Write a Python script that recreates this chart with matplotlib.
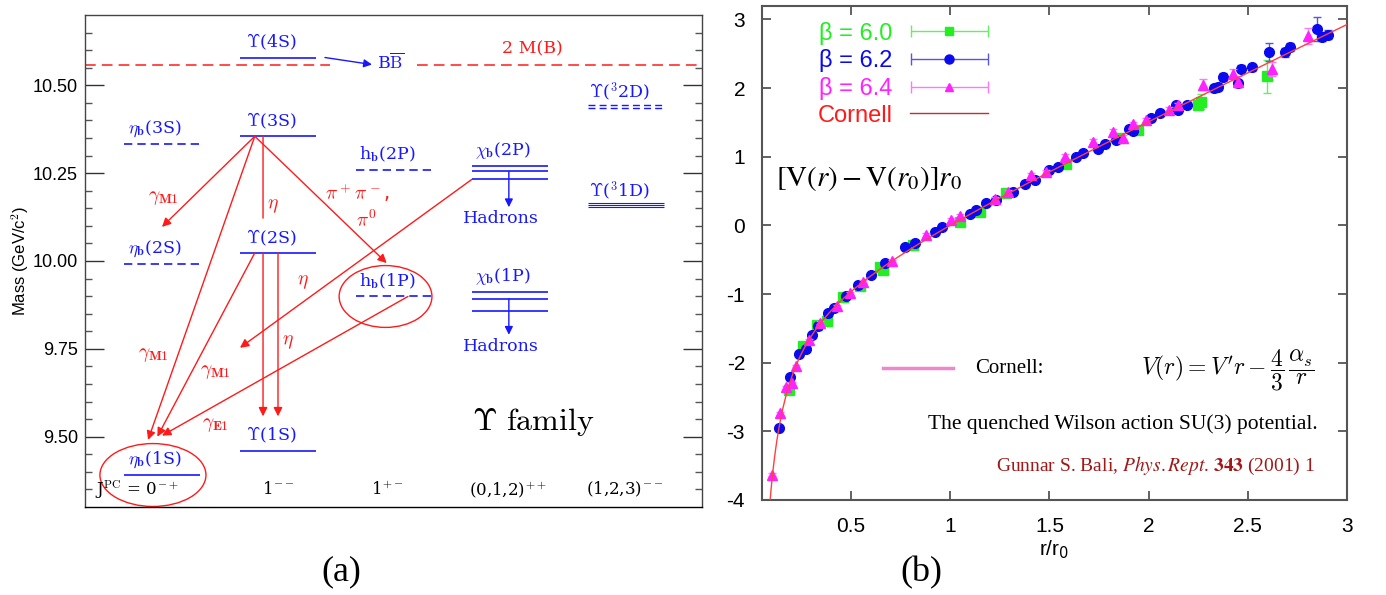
import matplotlib
matplotlib.use('Agg')
import matplotlib.pyplot as plt
import numpy as np
from matplotlib.patches import Ellipse
from matplotlib.lines import Line2D
from matplotlib.legend_handler import HandlerErrorbar
from matplotlib.container import ErrorbarContainer

plt.rcParams['mathtext.fontset'] = 'cm'
plt.rcParams['axes.unicode_minus'] = False

# ---------------- (a) bottomonium spectrum, masses in GeV/c^2 ----------------
jpc_labels = [r'J$^{\rm PC}$ = 0$^{-+}$', r'1$^{--}$', r'1$^{+-}$',
              r'(0,1,2)$^{++}$', r'(1,2,3)$^{--}$']
eta_b_names = ['1S', '2S', '3S']
eta_b_mass = [9.391, 9.991, 10.332]
ups_names = ['1S', '2S', '3S', '4S']
ups_mass = [9.460, 10.023, 10.355, 10.579]
h_b_names = ['1P', '2P']
h_b_mass = [9.899, 10.259]
chi_b1p_mass = [9.859, 9.893, 9.912]
chi_b2p_mass = [10.232, 10.255, 10.269]
ups_1d_mass = [10.153, 10.160, 10.166]
ups_2d_mass = [10.435, 10.444]
two_mB = 10.558

# red transitions: (x0, m0, x1, m1, arrowhead)
transitions = [
    (0.80, ups_mass[2], 0.00, 10.097, True),
    (0.80, ups_mass[2], -0.12, 9.491, True),
    (0.80, ups_mass[1], -0.04, 9.500, True),
    (2.12, h_b_mass[0], 0.00, 9.503, True),
    (0.80, ups_mass[2], 1.937, 9.994, True),
    (2.67, chi_b2p_mass[0], 0.672, 9.753, True),
    (0.871, ups_mass[2], 0.871, 10.122, False),
    (0.871, ups_mass[1], 0.871, 9.558, True),
    (1.00, ups_mass[1], 1.00, 9.558, True),
]
transition_labels = [
    (r'$\gamma_{\mathbf{M1}}$', 0.01, 10.182),
    (r'$\gamma_{\mathbf{M1}}$', -0.075, 9.733),
    (r'$\gamma_{\mathbf{M1}}$', 0.457, 9.685),
    (r'$\gamma_{\mathbf{E1}}$', 0.457, 9.534),
    (r'$\eta$', 0.96, 10.159),
    (r'$\eta$', 1.218, 9.941),
    (r'$\eta$', 1.089, 9.771),
    (r'$\pi^+\pi^-$,', 1.68, 10.193),
    (r'$\pi^0$', 1.765, 10.116),
]

# ---------------- (b) static potential, lattice data ----------------
r_60 = [0.189, 0.259, 0.327, 0.377, 0.461, 0.545, 0.645, 0.662, 0.813, 1.048,
        1.149, 1.283, 1.585, 1.853, 1.945, 2.247, 2.264, 2.595]
v_60 = [-2.40, -1.76, -1.45, -1.40, -1.04, -0.89, -0.60, -0.65, -0.28, 0.05,
        0.20, 0.47, 0.90, 1.28, 1.39, 1.75, 1.80, 2.17]
e_60 = [0.03, 0.02, 0.02, 0.02, 0.02, 0.02, 0.02, 0.02, 0.02, 0.02,
        0.02, 0.03, 0.03, 0.04, 0.04, 0.06, 0.11, 0.24]

r_62 = [0.139, 0.192, 0.236, 0.273, 0.302, 0.335, 0.385, 0.414, 0.474, 0.536,
        0.603, 0.670, 0.771, 0.822, 0.922, 0.956, 1.098, 1.132, 1.182, 1.232,
        1.316, 1.375, 1.425, 1.500, 1.543, 1.635, 1.668, 1.744, 1.778, 1.837,
        1.903, 1.920, 2.013, 2.055, 2.139, 2.147, 2.192, 2.331, 2.348, 2.373,
        2.449, 2.466, 2.521, 2.609, 2.689, 2.714, 2.848, 2.876, 2.905]
v_62 = [-2.95, -2.21, -1.88, -1.80, -1.60, -1.47, -1.28, -1.21, -1.03, -0.87,
        -0.72, -0.55, -0.31, -0.26, -0.09, -0.03, 0.17, 0.22, 0.32, 0.37,
        0.49, 0.61, 0.66, 0.81, 0.85, 1.00, 1.05, 1.12, 1.19, 1.24,
        1.41, 1.37, 1.56, 1.63, 1.75, 1.68, 1.75, 2.00, 2.02, 2.16,
        2.07, 2.28, 2.30, 2.53, 2.52, 2.60, 2.86, 2.75, 2.78]
e_62 = [0.03, 0.02, 0.02, 0.02, 0.02, 0.02, 0.02, 0.02, 0.02, 0.02,
        0.02, 0.02, 0.02, 0.02, 0.02, 0.02, 0.02, 0.02, 0.02, 0.02,
        0.02, 0.03, 0.03, 0.03, 0.03, 0.03, 0.03, 0.03, 0.03, 0.03,
        0.04, 0.04, 0.04, 0.04, 0.04, 0.04, 0.04, 0.05, 0.05, 0.06,
        0.05, 0.05, 0.05, 0.13, 0.06, 0.06, 0.18, 0.07, 0.07]

r_64 = [0.103, 0.142, 0.172, 0.200, 0.223, 0.290, 0.343, 0.427, 0.494, 0.561,
        0.704, 0.880, 1.006, 1.048, 1.224, 1.291, 1.409, 1.484, 1.576, 1.718,
        1.820, 1.870, 1.920, 1.988, 2.105, 2.147, 2.272, 2.423, 2.449, 2.622,
        2.801]
v_64 = [-3.63, -2.74, -2.36, -2.30, -2.05, -1.67, -1.42, -1.18, -0.99, -0.82,
        -0.52, -0.14, 0.08, 0.13, 0.39, 0.49, 0.73, 0.78, 1.00, 1.22,
        1.36, 1.28, 1.47, 1.53, 1.68, 1.75, 2.05, 2.21, 2.09, 2.28,
        2.76]
e_64 = [0.02, 0.02, 0.02, 0.02, 0.02, 0.02, 0.02, 0.02, 0.02, 0.02,
        0.02, 0.03, 0.03, 0.03, 0.03, 0.03, 0.04, 0.03, 0.04, 0.04,
        0.05, 0.04, 0.04, 0.04, 0.04, 0.04, 0.08, 0.07, 0.08, 0.10,
        0.12]

# Cornell fit in units of r0:  V r0 = sigma r0^2 (r/r0 - 1) - e (r0/r - 1)
sigma_r0sq = 1.37
e_coul = 0.28
r_fit = np.linspace(0.092, 3.0, 400)

BLUE = '#1818ff'
RED = '#ff1a1a'
LVL_FONT = 'DejaVu Serif'

fig = plt.figure(figsize=(13.86, 5.95), dpi=100)

# ================= panel (a) =================
ax = fig.add_axes([0.0613, 0.1479, 0.4452, 0.8269])
ax.set_xlim(-0.664, 4.655)
ax.set_ylim(9.30, 10.70)
hw = 0.33

def level(col, masses, ls='-', lw=1.2):
    for m in masses:
        ax.plot([col - hw, col + hw], [m, m], color=BLUE, lw=lw, ls=ls,
                dashes=(5, 3) if ls == '--' else (None, None), solid_capstyle='butt')

def name(col, mass, txt):
    ax.text(col - 0.06, mass + 0.044, txt, color=BLUE, ha='center', va='center',
            fontsize=12.5, family=LVL_FONT)

for i, m in enumerate(eta_b_mass):
    level(0, [m], '-' if i == 0 else '--')
    name(0, m, r'$\eta_{\mathbf{b}}$(' + eta_b_names[i] + ')')
for i, m in enumerate(ups_mass):
    level(1, [m])
    name(1, m, r'$\Upsilon$(' + ups_names[i] + ')')
for i, m in enumerate(h_b_mass):
    level(2, [m], '--')
    name(2, m, r'h$_{\mathbf{b}}$(' + h_b_names[i] + ')')
level(3, chi_b1p_mass)
name(3, max(chi_b1p_mass), r'$\chi_{\mathbf{b}}$(1P)')
level(3, chi_b2p_mass)
name(3, max(chi_b2p_mass), r'$\chi_{\mathbf{b}}$(2P)')
level(4, ups_1d_mass, lw=0.8)
name(4, max(ups_1d_mass) - 0.01, r'$\Upsilon$($^3$1D)')
level(4, ups_2d_mass, '--', lw=1.0)
name(4, max(ups_2d_mass) - 0.005, r'$\Upsilon$($^3$2D)')

# open-bottom threshold
ax.plot([-0.664, 1.448], [two_mB, two_mB], color=RED, lw=1.1, dashes=(7, 4))
ax.plot([2.198, 4.655], [two_mB, two_mB], color=RED, lw=1.1, dashes=(7, 4))
ax.text(3.19, 10.605, '2 M(B)', color=RED, ha='center', va='center',
        fontsize=12.5, family=LVL_FONT)
ax.annotate('', xy=(1.81, two_mB + 0.001), xytext=(1.405, ups_mass[3]),
            arrowprops=dict(arrowstyle='-|>', color=BLUE, lw=1.0, mutation_scale=12,
                            shrinkA=0, shrinkB=0))
ax.text(1.974, 10.565, r'B$\overline{\rm B}$', color=BLUE, ha='center', va='center',
        fontsize=12.5, family=LVL_FONT)

# hadronic decays of the chi_b states
for chi, tip, lab in [(chi_b2p_mass, 10.153, 10.122), (chi_b1p_mass, 9.79, 9.756)]:
    ax.annotate('', xy=(2.99, tip), xytext=(2.99, chi[1]),
                arrowprops=dict(arrowstyle='-|>', color=BLUE, lw=1.0, mutation_scale=12,
                                shrinkA=0, shrinkB=0))
    ax.text(2.92, lab, 'Hadrons', color=BLUE, ha='center', va='center',
            fontsize=12.5, family=LVL_FONT)

for x0, m0, x1, m1, head in transitions:
    ax.annotate('', xy=(x1, m1), xytext=(x0, m0),
                arrowprops=dict(arrowstyle='-|>' if head else '-', color=RED, lw=1.0,
                                mutation_scale=13, shrinkA=0, shrinkB=0))
for txt, x, m in transition_labels:
    ax.text(x, m, txt, color=RED, ha='center', va='center', fontsize=14)

ax.add_patch(Ellipse((1.927, h_b_mass[0]), 0.80, 0.176, fill=False, ec=RED, lw=1.0))
ax.add_patch(Ellipse((-0.078, eta_b_mass[0]), 0.914, 0.179, fill=False, ec=RED, lw=1.0,
                     clip_on=False))

for col, lab in zip([-0.22, 1.0, 1.94, 2.98, 3.99], jpc_labels):
    ax.text(col, 9.349, lab, ha='center', va='center', fontsize=12, family=LVL_FONT)

ax.text(3.198, 9.543, r'$\Upsilon\ \mathrm{family}$', ha='center', va='center', fontsize=23)

ax.set_xticks([])
ax.set_yticks([9.50, 9.75, 10.00, 10.25, 10.50])
ax.set_yticks(np.arange(9.35, 10.70, 0.05), minor=True)
ax.set_yticklabels(['9.50', '9.75', '10.00', '10.25', '10.50'], family='Liberation Sans',
                   fontsize=13)
ax.tick_params(axis='y', which='major', direction='in', length=13.5, width=1.0,
               right=True, pad=5, color='#333333')
ax.tick_params(axis='y', which='minor', direction='in', length=5, width=1.0,
               right=True, color='#555555')
for s in ax.spines.values():
    s.set_color('#444444')
    s.set_linewidth(1.0)
ax.spines['bottom'].set_color('black')
ax.set_ylabel(r'Mass (GeV/c$^2$)', family='Liberation Sans', fontsize=12)
ax.yaxis.set_label_coords(-0.088, 0.5)

fig.text(341 / 1386, 1 - 572 / 595, '(a)', ha='center', va='center', fontsize=26,
         family='Liberation Serif')

# ================= panel (b) =================
bx = fig.add_axes([0.5496, 0.1597, 0.4223, 0.8307])
bx.set_xlim(0.05, 3.0)
bx.set_ylim(-4, 3.2)

GREEN = '#22ee22'
MAG = '#ff22ff'
DBLUE = '#0a0aee'

bx.errorbar(r_60, v_60, yerr=e_60, fmt='s', color=GREEN, ms=6.5, ecolor='#66ee66',
            elinewidth=1.0, capsize=3, zorder=2)
bx.errorbar(r_62, v_62, yerr=e_62, fmt='o', color=DBLUE, ms=7, ecolor='#5555ee',
            elinewidth=1.0, capsize=3, zorder=3)
bx.errorbar(r_64, v_64, yerr=e_64, fmt='^', color=MAG, ms=6.5, ecolor='#ff77ff',
            elinewidth=1.0, capsize=3, zorder=4)
v_fit = sigma_r0sq * (r_fit - 1) - e_coul * (1 / r_fit - 1)
bx.plot(r_fit, v_fit, color='#ff4040', lw=1.0, zorder=5)

# legend proxies with horizontal bars
proxies = []
for fmt, col, ecol, ms in [('s', GREEN, '#66ee66', 6), ('o', DBLUE, '#5555ee', 6.5),
                           ('^', MAG, '#ff77ff', 5.5)]:
    proxies.append(bx.errorbar([np.nan], [np.nan], xerr=[1.0], fmt=fmt, color=col,
                               ecolor=ecol, ms=ms, elinewidth=1.0, capsize=4))
proxies.append(Line2D([], [], color='#c03030', lw=1.0))
leg = bx.legend(proxies, ['β = 6.0', 'β = 6.2', 'β = 6.4', 'Cornell'], loc='upper right',
                bbox_to_anchor=(0.387, 0.968), markerfirst=False, frameon=False,
                numpoints=1, handlelength=3.3, handletextpad=0.75, labelspacing=0.2,
                borderpad=0, borderaxespad=0,
                labelcolor=[GREEN, DBLUE, MAG, RED],
                prop={'family': 'Liberation Sans', 'size': 17},
                handler_map={ErrorbarContainer: HandlerErrorbar(xerr_size=1.62)})

bx.text(0.0243, 0.651, r'$[\mathrm{V}(r) - \mathrm{V}(r_0)]r_0$', transform=bx.transAxes,
        fontsize=21, ha='left', va='center', math_fontfamily='stix')

bx.plot([0.207, 0.327], [0.267, 0.267], transform=bx.transAxes, color='#ee88cc', lw=2.5)
bx.text(0.364, 0.267, 'Cornell:', transform=bx.transAxes, fontsize=15,
        family='Liberation Serif', ha='left', va='center')
bx.text(0.945, 0.262, r"$V(r) = V'r - \dfrac{4}{3}\,\dfrac{\alpha_s}{r}$",
        transform=bx.transAxes, fontsize=17, ha='right', va='center', math_fontfamily='cm')
bx.text(0.949, 0.154, 'The quenched Wilson action SU(3) potential.', transform=bx.transAxes,
        fontsize=15.5, family='Liberation Serif', ha='right', va='center')
bx.text(0.945, 0.069, r'Gunnar S. Bali, $\mathit{Phys.Rept}$. $\mathbf{343}$ (2001) 1',
        transform=bx.transAxes, fontsize=14, family='Liberation Serif', color='#a01818',
        ha='right', va='center', math_fontfamily='stix')

bx.set_xticks([0.5, 1, 1.5, 2, 2.5, 3])
bx.set_xticklabels(['0.5', '1', '1.5', '2', '2.5', '3'])
bx.set_yticks([-4, -3, -2, -1, 0, 1, 2, 3])
bx.set_yticklabels(['-4', '-3', '-2', '-1', '0', '1', '2', '3'])
bx.tick_params(direction='in', length=6.5, width=1.3, top=True, right=True,
               labelsize=15, color='#555555', pad=12)
for lab in bx.get_xticklabels() + bx.get_yticklabels():
    lab.set_family('Liberation Sans')
for s in bx.spines.values():
    s.set_color('#555555')
    s.set_linewidth(1.5)
bx.set_xlabel(r'r/r$_0$', family='Liberation Sans', fontsize=15, labelpad=2,
              math_fontfamily='dejavusans')

fig.text(921 / 1386, 1 - 573 / 595, '(b)', ha='center', va='center', fontsize=26,
         family='Liberation Serif')

fig.savefig('out.png', dpi=100)
